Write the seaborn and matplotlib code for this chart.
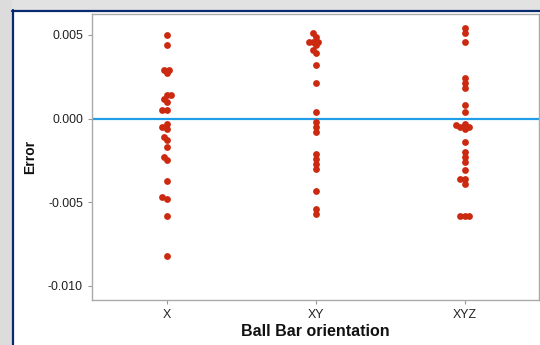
import numpy as np
import pandas as pd
import matplotlib
matplotlib.use('Agg')
import matplotlib.pyplot as plt
import seaborn as sns
from matplotlib.patches import Rectangle
from matplotlib.lines import Line2D

# valeurs
orientations = ['X', 'XY', 'XYZ']
err_x = [0.0050, 0.0044, 0.0029, 0.0029, 0.0027, 0.0014, 0.0014, 0.0012, 0.0010,
         0.0005, 0.0005, -0.0003, -0.0005, -0.0006, -0.0011, -0.0013, -0.0017,
         -0.0023, -0.0025, -0.0037, -0.0047, -0.0048, -0.0058, -0.0082]
err_xy = [0.0051, 0.0049, 0.0046, 0.0046, 0.0046, 0.0044, 0.0041, 0.0039, 0.0032,
          0.0021, 0.0004, -0.0002, -0.0005, -0.0008, -0.0021, -0.0024, -0.0027,
          -0.0030, -0.0043, -0.0054, -0.0057]
err_xyz = [0.0054, 0.0051, 0.0046, 0.0024, 0.0021, 0.0018, 0.0008, 0.0004, -0.0003,
           -0.0004, -0.0005, -0.0005, -0.0006, -0.0014, -0.0020, -0.0023, -0.0026,
           -0.0031, -0.0036, -0.0036, -0.0039, -0.0058, -0.0058, -0.0058]
y_ticks = [0.005, 0.000, -0.005, -0.010]

df = pd.DataFrame({
    'orientation': ['X'] * len(err_x) + ['XY'] * len(err_xy) + ['XYZ'] * len(err_xyz),
    'error': err_x + err_xy + err_xyz,
})

sns.set_style('white')
plt.rcParams['font.family'] = ['Liberation Sans', 'DejaVu Sans']

fig = plt.figure(figsize=(5.4, 3.45), dpi=100)
fig.patch.set_facecolor('white')

# cadre de fenetre (ombre grise + bord bleu marine)
fig.patches.append(Rectangle((0, 1 - 10 / 345), 1, 10 / 345, transform=fig.transFigure,
                             facecolor='#e2e2e2', edgecolor='none', zorder=0))
fig.patches.append(Rectangle((0, 0), 12 / 540, 1, transform=fig.transFigure,
                             facecolor='#dcdcdc', edgecolor='none', zorder=0))
fig.lines.append(Line2D([12 / 540, 1], [1 - 10.5 / 345] * 2, transform=fig.transFigure,
                        color='#0a2a6e', lw=1.6))
fig.lines.append(Line2D([12.5 / 540] * 2, [0, 1 - 10 / 345], transform=fig.transFigure,
                        color='#0a2a6e', lw=1.6))

ax = fig.add_axes([92 / 540, 1 - 300 / 345, 447 / 540, 286 / 345])
ax.axhline(0, color='#1f9de6', lw=1.6, zorder=1)
ax.set_xlim(-0.5, 2.5)
ax.set_ylim(-0.01084, 0.00625)

# essaim serre puis points agrandis -> recouvrement comme dans JMP
sns.swarmplot(data=df, x='orientation', y='error', order=orientations,
              color='#cc2a10', size=3.0, linewidth=0, ax=ax, zorder=3)
ax.set_xlim(-0.5, 2.5)
ax.set_ylim(-0.01084, 0.00625)
fig.canvas.draw()
for coll in ax.collections:
    if 'draw' in coll.__dict__:
        del coll.draw
    coll.set_sizes([4.9 ** 2])

ax.set_yticks(y_ticks)
ax.set_yticklabels([f'{v:.3f}' for v in y_ticks])
ax.tick_params(axis='both', which='both', length=3, color='#999999',
               labelsize=8.9, labelcolor='#222222', bottom=True, left=True)
for s in ax.spines.values():
    s.set_color('#aaaaaa')
    s.set_linewidth(1.0)
ax.set_xlabel('Ball Bar orientation', fontsize=11.5, fontweight='bold', color='#111111', labelpad=2)
ax.set_ylabel('Error', fontsize=10, fontweight='bold', color='#111111', labelpad=8)

fig.savefig('out.png', dpi=100)
